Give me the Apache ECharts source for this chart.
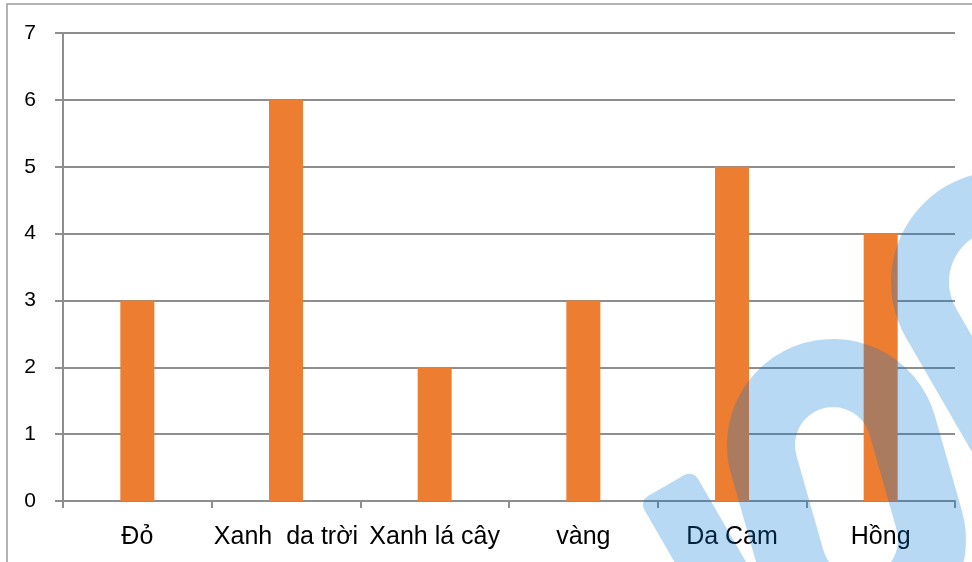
<!DOCTYPE html>
<html>
<head>
<meta charset="utf-8">
<script src="https://cdn.jsdelivr.net/npm/echarts@6/dist/echarts.min.js"></script>
<style>
  html, body { margin: 0; padding: 0; background: #fff; }
  #chart { width: 972px; height: 562px; }
</style>
</head>
<body>
<div id="chart"></div>
<script>
// dữ liệu
var categories = ['Đỏ', 'Xanh  da trời', 'Xanh lá cây', 'vàng', 'Da Cam', 'Hồng'];
var values = [3, 6, 2, 3, 5, 4];
var yTicks = [0, 1, 2, 3, 4, 5, 6, 7];

var axisGrey = '#8e8e8e';
var wmColor = 'rgba(0,120,215,0.28)';

var chart = echarts.init(document.getElementById('chart'));

// logo chìm: vòng (dạng viên thuốc) quanh hai tâm
function capsule(c1, c2, r) {
  var ux = c2[0] - c1[0], uy = c2[1] - c1[1];
  var a = Math.atan2(uy, ux);
  var pts = [], i, t;
  for (i = 0; i <= 30; i++) {
    t = a + Math.PI / 2 + Math.PI * i / 30;
    pts.push([c1[0] + r * Math.cos(t), c1[1] + r * Math.sin(t)]);
  }
  for (i = 0; i <= 30; i++) {
    t = a - Math.PI / 2 + Math.PI * i / 30;
    pts.push([c2[0] + r * Math.cos(t), c2[1] + r * Math.sin(t)]);
  }
  return pts;
}

// nét cong phía trên bên phải rồi chạy chéo xuống
function hook(c, r, len) {
  var pts = [], i, t;
  for (i = 0; i <= 30; i++) {
    t = (300 - 150 * i / 30) * Math.PI / 180;
    pts.push([c[0] + r * Math.cos(t), c[1] + r * Math.sin(t)]);
  }
  var last = pts[pts.length - 1];
  pts.push([last[0] + len * 0.5, last[1] + len * 0.866]);
  return pts;
}

var option = {
  animation: false,
  grid: { left: 63, right: 17, top: 33, bottom: 61 },
  xAxis: {
    type: 'category',
    data: categories,
    axisLine: { lineStyle: { color: axisGrey, width: 2 } },
    axisTick: { show: true, length: 7, alignWithLabel: false, lineStyle: { color: axisGrey, width: 2 } },
    axisLabel: {
      margin: 24,
      color: '#000',
      fontFamily: 'Liberation Sans',
      fontSize: 25,
      interval: 0
    },
    splitLine: { show: false }
  },
  yAxis: {
    type: 'value',
    min: yTicks[0],
    max: yTicks[yTicks.length - 1],
    interval: 1,
    axisLine: { show: true, lineStyle: { color: axisGrey, width: 2 } },
    axisTick: { show: true, length: 8, lineStyle: { color: axisGrey, width: 2 } },
    axisLabel: {
      margin: 27,
      color: '#000',
      fontFamily: 'Liberation Sans',
      fontSize: 21
    },
    splitLine: { lineStyle: { color: axisGrey, width: 2 } }
  },
  series: [{
    type: 'bar',
    data: values,
    barWidth: 34,
    itemStyle: { color: '#ED7D31' }
  }],
  graphic: [
    // khung ngoài
    {
      type: 'rect', x: 7, y: 4, z: 0, silent: true,
      shape: { x: 0, y: 0, width: 1000, height: 600 },
      style: { fill: null, stroke: '#9a9a9a', lineWidth: 1.5 }
    },
    {
      type: 'rect', x: 693, y: 470, rotation: -1.047, z: 100, silent: true,
      shape: { x: 0, y: 0, width: 200, height: 62, r: 10 },
      style: { fill: wmColor }
    },
    {
      type: 'polygon', z: 100, silent: true,
      shape: { points: capsule([833, 445], [860, 540], 72) },
      style: { fill: null, stroke: wmColor, lineWidth: 68, lineJoin: 'round' }
    },
    {
      type: 'polyline', z: 100, silent: true,
      shape: { points: hook([1002, 282], 82, 160) },
      style: { fill: null, stroke: wmColor, lineWidth: 58, lineJoin: 'round', lineCap: 'butt' }
    }
  ]
};
chart.setOption(option);
</script>
</body>
</html>
